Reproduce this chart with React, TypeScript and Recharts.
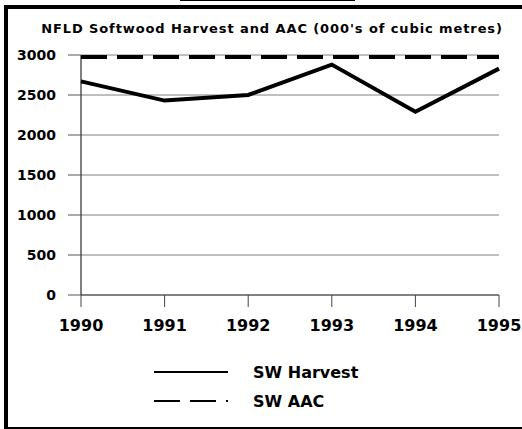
import { LineChart, XAxis, YAxis, Line, CartesianGrid, Legend } from "recharts";

const years = ["1990", "1991", "1992", "1993", "1994", "1995"];
const harvest = [2670, 2430, 2500, 2880, 2290, 2830];
const aac = [2975, 2975, 2975, 2975, 2975, 2975];
const yTicks = [0, 500, 1000, 1500, 2000, 2500, 3000];

const data = years.map((y, i) => ({ year: y, harvest: harvest[i], aac: aac[i] }));

const FONT = "'DejaVu Sans', sans-serif";

function LegendBox() {
    return (
        <svg width={240} height={52} style={{ display: "block" }}>
            <line x1={4} y1={12} x2={78} y2={12} stroke="#000" strokeWidth={2} />
            <line x1={4} y1={41} x2={78} y2={41} stroke="#000" strokeWidth={2} strokeDasharray="26 10 26 10 2 100" />
            <text x={103} y={12} dy="0.36em" fontFamily={FONT} fontWeight="bold" fontSize={16} fill="#000">SW Harvest</text>
            <text x={103} y={41} dy="0.36em" fontFamily={FONT} fontWeight="bold" fontSize={16} fill="#000">SW AAC</text>
        </svg>
    );
}

export default function App() {
    return (
        <div style={{ position: "absolute", left: 0, top: 0, width: 522, height: 429, background: "#fff", overflow: "hidden" }}>
            {/* frame pieces */}
            <div style={{ position: "absolute", left: 180, top: 0, width: 175, height: 1, background: "#000" }} />
            <div style={{ position: "absolute", left: 4, top: 5, width: 518, height: 4, background: "#000" }} />
            <div style={{ position: "absolute", left: 4, top: 5, width: 4, height: 424, background: "#000" }} />
            <div style={{ position: "absolute", left: 4, top: 427, width: 518, height: 2, background: "#000" }} />
            <div
                style={{
                    position: "absolute",
                    left: 0,
                    top: 20,
                    width: 544,
                    textAlign: "center",
                    fontFamily: FONT,
                    fontWeight: "bold",
                    fontSize: 13,
                    letterSpacing: 0.9,
                    lineHeight: "18px",
                    color: "#000",
                }}
            >
                NFLD Softwood Harvest and AAC (000's of cubic metres)
            </div>
            <div style={{ position: "absolute", left: 0, top: 0 }}>
                <LineChart width={522} height={429} data={data} margin={{ top: 55, right: 23, left: 0, bottom: 94 }}>
                    <CartesianGrid horizontal={true} vertical={false} stroke="#808080" strokeWidth={1} />
                    <XAxis
                        dataKey="year"
                        height={40}
                        tickSize={12}
                        tickMargin={13}
                        axisLine={{ stroke: "#444", strokeWidth: 1 }}
                        tickLine={{ stroke: "#444", strokeWidth: 1 }}
                        tick={{ fontFamily: FONT, fontWeight: "bold", fontSize: 16, fill: "#000" }}
                        interval={0}
                    />
                    <YAxis
                        width={81}
                        domain={[0, 3000]}
                        ticks={yTicks}
                        tickSize={13}
                        tickMargin={12}
                        axisLine={{ stroke: "#000", strokeWidth: 1 }}
                        tickLine={{ stroke: "#555", strokeWidth: 1 }}
                        tick={{ fontFamily: FONT, fontWeight: "bold", fontSize: 14, fill: "#000" }}
                        interval={0}
                    />
                    <Line
                        dataKey="aac"
                        name="SW AAC"
                        stroke="#000"
                        strokeWidth={4}
                        strokeDasharray="26 10"
                        dot={false}
                        activeDot={false}
                        isAnimationActive={false}
                    />
                    <Line
                        dataKey="harvest"
                        name="SW Harvest"
                        stroke="#000"
                        strokeWidth={4}
                        dot={false}
                        activeDot={false}
                        isAnimationActive={false}
                    />
                    <Legend
                        layout="horizontal"
                        verticalAlign="middle"
                        align="center"
                        wrapperStyle={{ left: 150, top: 360, width: 240, height: 52 }}
                        content={() => <LegendBox />}
                    />
                </LineChart>
            </div>
        </div>
    );
}
